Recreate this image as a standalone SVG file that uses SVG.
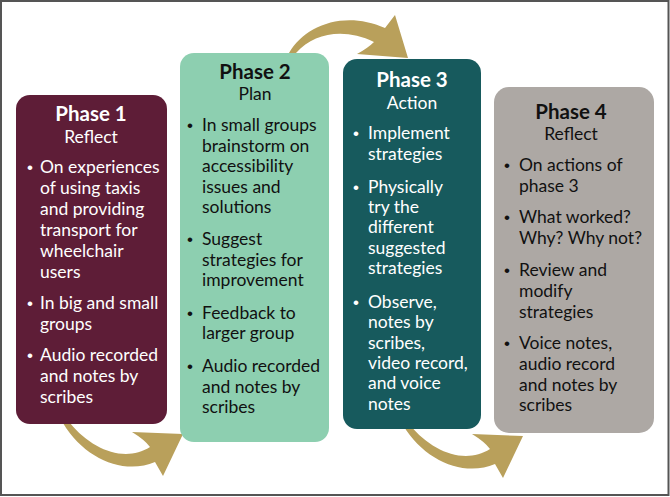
<svg xmlns="http://www.w3.org/2000/svg" width="670" height="497" viewBox="0 0 670 497">
<style>
  text { font-family: Lato, "Liberation Sans", sans-serif; font-size: 17.5px; }
  .h { font-weight: bold; font-size: 20.5px; text-anchor: middle; }
  .s { text-anchor: middle; }
  .b { font-family: "Liberation Sans", sans-serif; font-size: 17px; }
  .w { fill: #ffffff; }
  .k { fill: #111111; }
  .arrow { fill: #B9A05B; }
</style>
<rect x="1" y="1" width="667.5" height="494" fill="#ffffff" stroke="#555555" stroke-width="2"/>
<g id="connectors">
  <path id="arrow1" class="arrow" d="M 63,423 C 85,460 125,475 155,462 L 163,476 L 183,434 L 132,432 Q 145,440 150,447 C 125,463 92,450 70,423 Z"/>
  <path id="arrow2" class="arrow" d="M 289,53 C 305,25 345,10 385,28 L 395,15 L 408,58 L 357,54 Q 368,48 374,42 C 345,28 315,32 296,53 Z"/>
  <use href="#arrow1" transform="translate(340,2)"/>
</g>
<g id="phase1">
  <rect x="16" y="95" width="151" height="329" rx="14" fill="#5E1D37"/>
  <text class="h w" x="91" y="121">Phase 1</text>
  <text class="s w" x="91" y="143">Reflect</text>
  <text class="b w" x="27" y="173">•</text>
  <text class="w" x="40" y="173">On experiences</text>
  <text class="w" x="40" y="194">of using taxis</text>
  <text class="w" x="40" y="215">and providing</text>
  <text class="w" x="40" y="236">transport for</text>
  <text class="w" x="40" y="257">wheelchair</text>
  <text class="w" x="40" y="278">users</text>
  <text class="b w" x="27" y="309">•</text>
  <text class="w" x="40" y="309">In big and small</text>
  <text class="w" x="40" y="330">groups</text>
  <text class="b w" x="27" y="361">•</text>
  <text class="w" x="40" y="361">Audio recorded</text>
  <text class="w" x="40" y="382">and notes by</text>
  <text class="w" x="40" y="403">scribes</text>
</g>
<g id="phase2">
  <rect x="180" y="53" width="149" height="389" rx="14" fill="#8DCFB0"/>
  <text class="h k" x="255" y="79">Phase 2</text>
  <text class="s k" x="255" y="100">Plan</text>
  <text class="b k" x="187" y="131">•</text>
  <text class="k" x="202" y="131">In small groups</text>
  <text class="k" x="202" y="152">brainstorm on</text>
  <text class="k" x="202" y="172">accessibility</text>
  <text class="k" x="202" y="193">issues and</text>
  <text class="k" x="202" y="213">solutions</text>
  <text class="b k" x="187" y="245">•</text>
  <text class="k" x="202" y="245">Suggest</text>
  <text class="k" x="202" y="266">strategies for</text>
  <text class="k" x="202" y="286">improvement</text>
  <text class="b k" x="187" y="319">•</text>
  <text class="k" x="202" y="319">Feedback to</text>
  <text class="k" x="202" y="339">larger group</text>
  <text class="b k" x="187" y="372">•</text>
  <text class="k" x="202" y="372">Audio recorded</text>
  <text class="k" x="202" y="393">and notes by</text>
  <text class="k" x="202" y="413">scribes</text>
</g>
<g id="phase3">
  <rect x="343" y="59" width="138" height="370" rx="14" fill="#175A5D"/>
  <text class="h w" x="412" y="87">Phase 3</text>
  <text class="s w" x="412" y="109">Action</text>
  <text class="b w" x="353" y="139">•</text>
  <text class="w" x="368" y="139">Implement</text>
  <text class="w" x="368" y="160">strategies</text>
  <text class="b w" x="353" y="193">•</text>
  <text class="w" x="368" y="193">Physically</text>
  <text class="w" x="368" y="213">try the</text>
  <text class="w" x="368" y="233">different</text>
  <text class="w" x="368" y="254">suggested</text>
  <text class="w" x="368" y="274">strategies</text>
  <text class="b w" x="353" y="308">•</text>
  <text class="w" x="368" y="308">Observe,</text>
  <text class="w" x="368" y="328">notes by</text>
  <text class="w" x="368" y="349">scribes,</text>
  <text class="w" x="368" y="369">video record,</text>
  <text class="w" x="368" y="389">and voice</text>
  <text class="w" x="368" y="410">notes</text>
</g>
<g id="phase4">
  <rect x="494" y="87" width="160" height="346" rx="15" fill="#ADA8A4"/>
  <text class="h k" x="571" y="119">Phase 4</text>
  <text class="s k" x="571" y="140">Reflect</text>
  <text class="b k" x="504" y="171">•</text>
  <text class="k" x="519" y="171">On actions of</text>
  <text class="k" x="519" y="192">phase 3</text>
  <text class="b k" x="504" y="223">•</text>
  <text class="k" x="519" y="223">What worked?</text>
  <text class="k" x="519" y="244">Why? Why not?</text>
  <text class="b k" x="504" y="276">•</text>
  <text class="k" x="519" y="276">Review and</text>
  <text class="k" x="519" y="297">modify</text>
  <text class="k" x="519" y="318">strategies</text>
  <text class="b k" x="504" y="349">•</text>
  <text class="k" x="519" y="349">Voice notes,</text>
  <text class="k" x="519" y="370">audio record</text>
  <text class="k" x="519" y="391">and notes by</text>
  <text class="k" x="519" y="411">scribes</text>
</g>
</svg>
